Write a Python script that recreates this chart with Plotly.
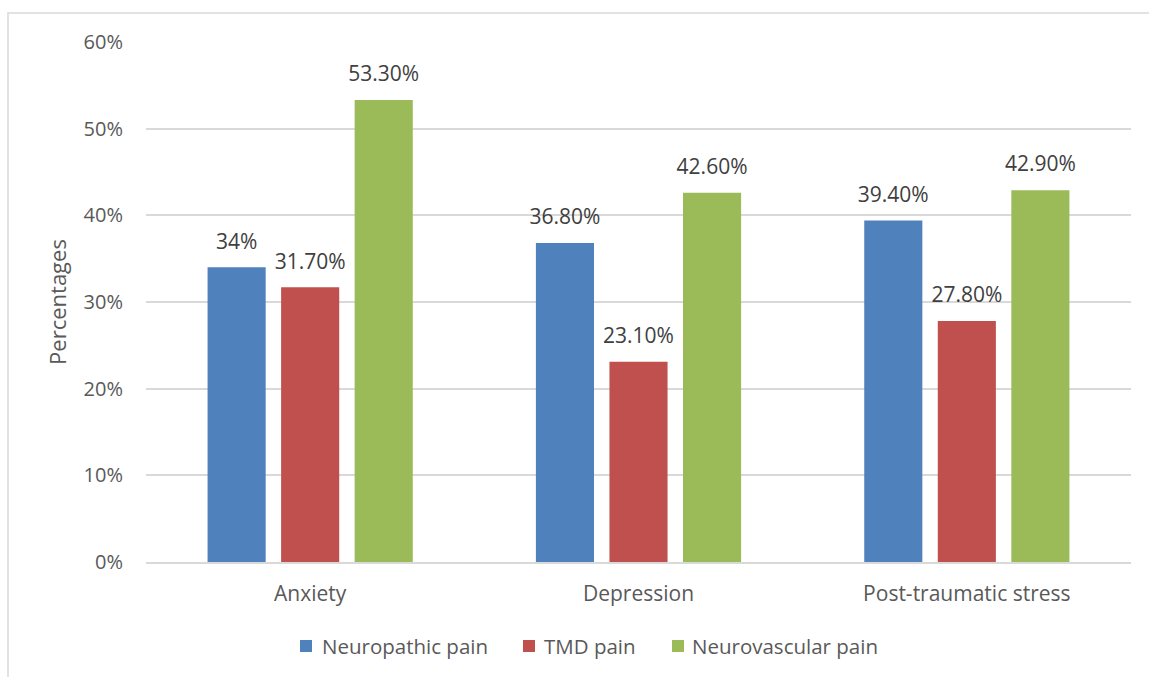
import plotly.graph_objects as go

# Data
categories = ["Anxiety", "Depression", "Post-traumatic stress"]
series_names = ["Neuropathic pain", "TMD pain", "Neurovascular pain"]
neuropathic = [34.0, 36.8, 39.4]
tmd = [31.7, 23.1, 27.8]
neurovascular = [53.3, 42.6, 42.9]
y_ticks = [0, 10, 20, 30, 40, 50, 60]

colors = ["#4F81BD", "#C0504D", "#9BBB59"]
FONT = "Open Sans"
W, H = 1149, 677
ML, MR, MT, MB = 146, 18, 42, 115
GAP = 0.328


def fmt(v):
    return f"{v:.0f}%" if float(v).is_integer() else f"{v:.2f}%"


fig = go.Figure()
for i, (name, vals, col) in enumerate(zip(series_names, [neuropathic, tmd, neurovascular], colors)):
    fig.add_trace(go.Bar(
        x=categories, y=vals, name=name, offsetgroup=str(i),
        marker=dict(color=col, line=dict(width=0)),
        showlegend=False, hoverinfo="skip",
    ))
# Value labels, grouped the same way as the bars and lifted above each bar top
for i, vals in enumerate([neuropathic, tmd, neurovascular]):
    fig.add_trace(go.Scatter(
        x=categories, y=vals, offsetgroup=str(i), mode="markers+text",
        marker=dict(size=20, opacity=0),
        text=[fmt(v) for v in vals], textposition="top center",
        textfont=dict(family=FONT, size=21, color="#404040"),
        cliponaxis=False, showlegend=False, hoverinfo="skip",
    ))

pw = W - ML - MR
ph = H - MT - MB


def px_x(p):
    return (p - ML) / pw


def px_y(p):
    return (H - MB - p) / ph


# Legend drawn as small squares with labels beneath the chart
legend_square_x = [300, 523, 672]
legend_text_x = [320, 542, 690]
legend_y = 646
SQ = 12
shapes = [dict(type="rect", xref="paper", yref="paper",
               x0=px_x(8), x1=px_x(1155), y0=px_y(685), y1=px_y(13),
               line=dict(color="#D9D9D9", width=1.5), layer="below")]
annotations = []
for name, col, sx, tx in zip(series_names, colors, legend_square_x, legend_text_x):
    shapes.append(dict(type="rect", xref="paper", yref="paper",
                       x0=px_x(sx), x1=px_x(sx + SQ),
                       y0=px_y(legend_y + SQ / 2), y1=px_y(legend_y - SQ / 2),
                       fillcolor=col, line=dict(width=0)))
    annotations.append(dict(text=name, xref="paper", yref="paper",
                            x=px_x(tx), y=px_y(legend_y), xanchor="left",
                            yanchor="middle", showarrow=False,
                            font=dict(family=FONT, size=20.5, color="#595959")))

fig.update_layout(
    width=W, height=H,
    margin=dict(l=ML, r=MR, t=MT, b=MB),
    paper_bgcolor="white", plot_bgcolor="white",
    barmode="group", bargap=GAP, bargroupgap=0.21,
    scattermode="group", scattergap=GAP,
    font=dict(family=FONT, size=20, color="#595959"),
    xaxis=dict(showgrid=False, showline=True, linecolor="#D9D9D9", linewidth=1.5,
               ticks="", ticklabelstandoff=12,
               tickfont=dict(size=21, color="#595959")),
    yaxis=dict(range=[0, 60], tickmode="array", tickvals=y_ticks,
               ticktext=[f"{t}%" for t in y_ticks],
               showgrid=True, gridcolor="#D9D9D9", gridwidth=1.5,
               zeroline=False, showline=False, ticks="",
               ticklabelstandoff=22,
               tickfont=dict(size=20, color="#595959"),
               title=dict(text="Percentages", font=dict(size=22, color="#595959"),
                          standoff=10)),
    showlegend=False,
    shapes=shapes,
    annotations=annotations,
)

fig.write_html("out.html")
